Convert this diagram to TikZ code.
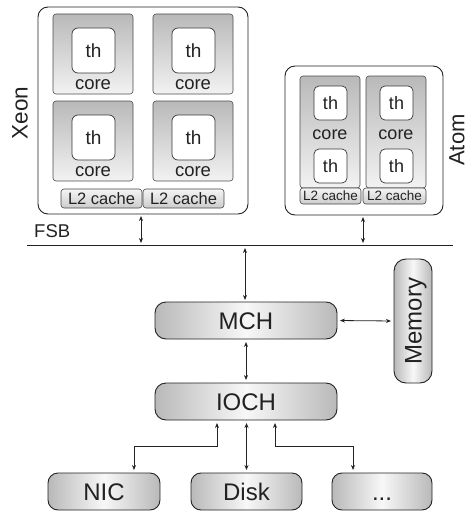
\documentclass[tikz,border=0pt]{standalone}
\usepackage{fontspec}
\setmainfont{Liberation Sans}
\usetikzlibrary{arrows.meta}
\definecolor{ink}{HTML}{222222}
\tikzset{
  x=1pt, y=-1pt,
  fs/.style={font=\fontsize{#1}{#1}\selectfont},
  box/.style={inner sep=0pt, outer sep=0pt, anchor=north west},
  chip/.style={box, draw=ink, line width=0.9pt, rounded corners=10pt},
  corebox/.style={box, draw=gray!60!black, line width=0.6pt, rounded corners=3pt, top color=gray!55, bottom color=gray!10},
  thbox/.style={box, draw=ink!90, line width=0.7pt, fill=white, rounded corners=6pt, text=ink},
  l2box/.style={box, draw=gray!55!black, line width=0.6pt, rounded corners=3pt, top color=gray!8, bottom color=gray!40, text=ink},
  hub/.style={draw=ink, line width=0.9pt, rounded corners=11pt, left color=gray!55, right color=gray!55, middle color=gray!6, inner sep=0pt, outer sep=0pt, text=ink, fs=24, text height=17pt, text depth=0pt},
  lbl/.style={text=ink, inner sep=0pt},
  bi/.style={{Stealth[length=5pt,width=4pt]}-{Stealth[length=5pt,width=4pt]}, line width=0.8pt, draw=ink},
}
\begin{document}
\begin{tikzpicture}
\useasboundingbox (0,0) rectangle (469,511);
% Xeon
\node[chip, minimum width=210pt, minimum height=207pt] (xeon) at (38,7) {};
\node[lbl, fs=22.5, rotate=90] (xeonl) at (20,113) {Xeon};
\foreach \i/\x/\y in {1/53/14, 2/153/14, 3/53/101, 4/153/101} {
  \node[corebox, minimum width=80pt, minimum height=80pt] (xc\i) at (\x,\y) {};
  \node[thbox, fs=19, minimum width=43pt, minimum height=45pt] (xt\i) at (\x+19,\y+14) {th};
  \node[lbl, fs=18.5, anchor=base] (xk\i) at (\x+40,\y+75) {core};
}
\node[l2box, fs=16.5, minimum width=81pt, minimum height=19pt] (xl1) at (61,189) {L2 cache};
\node[l2box, fs=16.5, minimum width=81pt, minimum height=19pt] (xl2) at (143,189) {L2 cache};
% Atom
\node[chip, minimum width=158pt, minimum height=149pt] (atom) at (285,66) {};
\node[lbl, fs=22, rotate=90] (atoml) at (457,140) {Atom};
\foreach \i/\x in {1/300, 2/366} {
  \node[corebox, minimum width=60pt, minimum height=112pt] (ac\i) at (\x,76) {};
  \node[thbox, fs=18, minimum width=33pt, minimum height=34pt, rounded corners=5pt] (ata\i) at (\x+14,86) {th};
  \node[thbox, fs=18, minimum width=33pt, minimum height=34pt, rounded corners=5pt] (atb\i) at (\x+14,149) {th};
  \node[lbl, fs=18, anchor=base] (ak\i) at (\x+30,139) {core};
}
\node[l2box, fs=13.5, minimum width=61pt, minimum height=16pt] (al1) at (300,188) {L2 cache};
\node[l2box, fs=13.5, minimum width=63pt, minimum height=16pt] (al2) at (363,188) {L2 cache};
% FSB
\coordinate (fsbL) at (27,245);
\coordinate (fsbR) at (453,245);
\draw[ink, line width=0.9pt] (fsbL) -- (fsbR);
\node[lbl, fs=18.5, anchor=base west] (fsb) at (34,237) {FSB};
\coordinate (fx) at (141,245);
\coordinate (fa) at (363,245);
\coordinate (fm) at (245,245);
\draw[bi, shorten <=2pt, shorten >=2pt] (xeon.south -| fx) -- (fx);
\draw[bi, shorten <=2pt, shorten >=2pt] (atom.south -| fa) -- (fa);
% hubs
\node[hub, minimum width=182pt, minimum height=37pt] (mch) at (246,320.5) {MCH};
\node[hub, minimum width=182pt, minimum height=37pt] (ioch) at (246,401.5) {IOCH};
\node[hub, rotate=90, minimum width=124pt, minimum height=38pt, rounded corners=12pt] (mem) at (413,321) {Memory};
\draw[bi, shorten <=3pt, shorten >=2pt] (fm) -- (mch.north -| fm);
\draw[bi, shorten <=3pt, shorten >=3pt] (mch.east) -- (mem.north);
\draw[bi, shorten <=3pt, shorten >=3pt] (mch.south) -- (ioch.north);
% devices
\node[hub, rounded corners=10pt, minimum width=112pt, minimum height=37pt] (nic) at (104,491.5) {NIC};
\node[hub, rounded corners=10pt, minimum width=111pt, minimum height=37pt] (disk) at (246.5,491.5) {Disk};
\node[hub, rounded corners=10pt, minimum width=100pt, minimum height=37pt] (more) at (382,491.5) {...};
\coordinate (cl) at (217,446);
\coordinate (cr) at (275,446);
\coordinate (nx) at (134,0);
\coordinate (mx) at (353,0);
\draw[bi, shorten <=3pt, shorten >=3pt] (ioch.south -| cl) -- (cl) -- (cl -| nx) -- (nic.north -| nx);
\draw[bi, shorten <=3pt, shorten >=3pt] (ioch.south -| disk.north) -- (disk.north);
\draw[bi, shorten <=3pt, shorten >=3pt] (ioch.south -| cr) -- (cr) -- (cr -| mx) -- (more.north -| mx);
\end{tikzpicture}
\end{document}
